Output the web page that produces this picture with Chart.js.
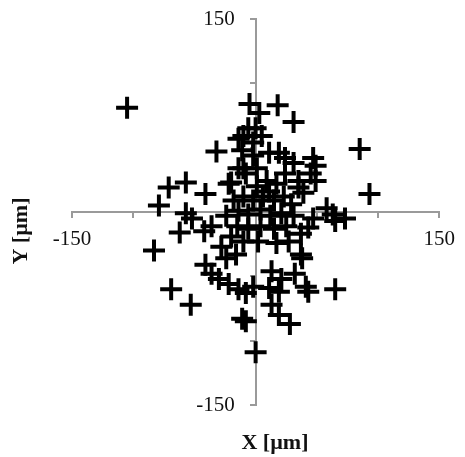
<!DOCTYPE html>
<html>
<head>
<meta charset="utf-8">
<script src="https://cdn.jsdelivr.net/npm/chart.js@4/dist/chart.umd.min.js"></script>
<style>
  html, body { margin: 0; padding: 0; background: #fff; }
  #wrap { width: 465px; height: 457px; }
</style>
</head>
<body>
<div id="wrap"><canvas id="chart-scatter"></canvas></div>
<script>
// ── Data (µm) ───────────────────────────────────────────────────────────────
const xValues = [
  -105, -5, 3, 18, 31, -6, -10, -2, -14, -11, -32, -2, 85, 11, 19, 24, 31, 47, 49, -10,
  1, -14, -20, -8, 24, 45, -71, -57, -41, -22, -79, -57, -52, -62, -83, -36, -24, 93, 39, 11,
  29, 58, 65, 73, 47, 37, 17, 37, 2, -41, -36, -30, -22, -14, -8, -69, -53, -11, -8, 0,
  -24, -16, 38, 13, 21, 32, 41, 65, 11, 19, 13, 19, 28, -2, 43,
  -18, -10, -2, 6, 15, 23, -14, -6, 4, 12, 21, 31, -15, -6, 4, 15, 25, -10, -20, -28,
  27, 9, 17, 35, 1, -42, 43, 5, 0, 49, 35, 63
];
const yValues = [
  81, 84, 77, 83, 70, 65, 59, 54, 57, 48, 47, 44, 49, 46, 46, 42, 38, 42, 36, 34,
  34, 34, 23, 30, 30, 30, 19, 23, 14, 22, 5, -1, -5, -16, -30, -11, -3, 14, 15, 16,
  6, 3, -7, -5, -5, -17, -24, -33, -23, -41, -48, -52, -56, -60, -63, -60, -72, -83, -85, -109,
  -36, -33, -36, -46, -52, -48, -58, -60, -59, -62, -72, -80, -87, -58, -62,
  9, 12, 9, 12, 9, 12, 1, -2, 2, -3, -1, -3, -11, -13, -11, -13, -11, -23, -19, -27,
  -23, 24, 22, 24, 20, -15, -12, 59, 65, 24, 19, -2
];
const axisMin = -150;
const axisMax = 150;
const tickLabels = [-150, 150];
const xTitle = 'X [µm]';
const yTitle = 'Y [µm]';

const FONT = '"Liberation Serif", "DejaVu Serif", serif';
const AXIS_GREY = '#9a9a9a';
const TICK_FONT = { family: FONT, size: 21 };

// ── Axis titles + end labels of the vertical axis ────────────────────────────
// (Chart.js puts the labels of a centred y axis flush on the line, so they
//  are placed here from the scales instead.)
const axisText = {
  id: 'axisText',
  afterDraw(chart) {
    const { ctx, scales } = chart;
    const axisX = scales.x.getPixelForValue(0);
    ctx.save();
    ctx.fillStyle = '#111';

    ctx.font = `21px ${FONT}`;
    ctx.textAlign = 'right';
    ctx.textBaseline = 'middle';
    tickLabels.forEach(v => {
      ctx.fillText(String(v), axisX - 21, scales.y.getPixelForValue(v));
    });

    ctx.font = `bold 22px ${FONT}`;
    ctx.textAlign = 'center';
    ctx.fillText(xTitle, 275, 443);
    ctx.translate(21, 231);
    ctx.rotate(-Math.PI / 2);
    ctx.fillText(yTitle, 0, 0);
    ctx.restore();
  }
};

function endLabel(v) {
  return tickLabels.includes(v) ? String(v) : '';
}

const points = xValues.map((x, i) => ({ x, y: yValues[i] }));

new Chart(document.getElementById('chart-scatter'), {
  type: 'scatter',
  data: {
    datasets: [{
      data: points,
      pointStyle: 'cross',
      pointRadius: 11,
      pointHoverRadius: 11,
      borderColor: '#000',
      backgroundColor: '#000',
      borderWidth: 4,
    }]
  },
  options: {
    responsive: true,
    maintainAspectRatio: false,
    animation: false,
    events: [],
    layout: { padding: { left: 72, right: 23, top: 19, bottom: 52 } },
    plugins: { legend: { display: false }, tooltip: { enabled: false } },
    scales: {
      x: {
        type: 'linear',
        min: axisMin,
        max: axisMax,
        position: { y: 0 },
        border: { color: AXIS_GREY, width: 2 },
        grid: { drawOnChartArea: false, drawTicks: true, tickLength: 5, color: AXIS_GREY, lineWidth: 2 },
        ticks: {
          stepSize: 50,
          autoSkip: false,
          maxRotation: 0,
          padding: 10,
          color: '#111',
          font: TICK_FONT,
          callback: v => endLabel(v),
        },
      },
      y: {
        type: 'linear',
        min: axisMin,
        max: axisMax,
        position: { x: 0 },
        border: { color: AXIS_GREY, width: 2 },
        grid: { drawOnChartArea: false, drawTicks: true, tickLength: 5, color: AXIS_GREY, lineWidth: 2 },
        ticks: { stepSize: 50, autoSkip: false, callback: () => '' },
      }
    }
  },
  plugins: [axisText]
});
</script>
</body>
</html>
